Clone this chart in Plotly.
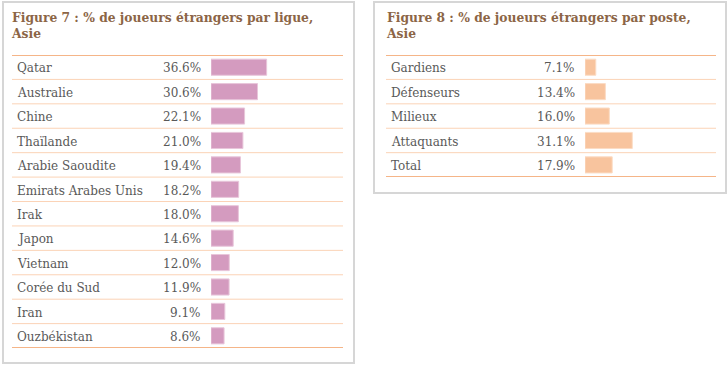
import plotly.graph_objects as go

# ---- data ----
ligues = ["Qatar", "Australie", "Chine", "Thaïlande", "Arabie Saoudite", "Emirats Arabes Unis",
          "Irak", "Japon", "Vietnam", "Corée du Sud", "Iran", "Ouzbékistan"]
ligue_pct = [36.6, 30.6, 22.1, 21.0, 19.4, 18.2, 18.0, 14.6, 12.0, 11.9, 9.1, 8.6]

postes = ["Gardiens", "Défenseurs", "Milieux", "Attaquants", "Total"]
poste_pct = [7.1, 13.4, 16.0, 31.1, 17.9]

title7 = "Figure 7 : % de joueurs étrangers par ligue,<br>Asie"
title8 = "Figure 8 : % de joueurs étrangers par poste,<br>Asie"

W, H = 728, 366
def px(x): return x / W
def py(y): return 1 - y / H

PINK = "#D49BBF"
PEACH = "#F8C49E"
SEP = "#FBD3B6"
RULE = "#F5B588"
BOX = "#D6D6D6"
TXT = "#595959"
TITLE = "#8C6546"
FONT = "DejaVu Serif"
SCALE = 1.52  # px per percent

fig = go.Figure()

fig.add_trace(go.Bar(x=ligue_pct, y=list(range(len(ligues))), orientation="h",
                     marker=dict(color=PINK, line=dict(color="#E8C6DA", width=1)),
                     width=0.66, xaxis="x", yaxis="y", hoverinfo="skip", showlegend=False))
fig.add_trace(go.Bar(x=poste_pct, y=list(range(len(postes))), orientation="h",
                     marker=dict(color=PEACH, line=dict(color="#FBDCC5", width=1)),
                     width=0.66, xaxis="x2", yaxis="y2", hoverinfo="skip", showlegend=False))

top, row = 55, 24.42
l_bot = top + row * len(ligues)
r_bot = top + row * len(postes)

ax_common = dict(showgrid=False, zeroline=False, showticklabels=False, showline=False, ticks="", fixedrange=True)
fig.update_layout(
    width=W, height=H, margin=dict(l=0, r=0, t=0, b=0),
    paper_bgcolor="white", plot_bgcolor="rgba(0,0,0,0)",
    bargap=0,
    xaxis=dict(domain=[px(211), px(211 + SCALE * 40)], range=[0, 40], anchor="y", **ax_common),
    yaxis=dict(domain=[py(l_bot), py(top)], range=[len(ligues) - 0.5, -0.5], anchor="x", **ax_common),
    xaxis2=dict(domain=[px(585), px(585 + SCALE * 40)], range=[0, 40], anchor="y2", **ax_common),
    yaxis2=dict(domain=[py(r_bot), py(top)], range=[len(postes) - 0.5, -0.5], anchor="x2", **ax_common),
)

shapes = []
# boxes
shapes.append(dict(type="rect", xref="paper", yref="paper", x0=px(3), x1=px(354), y0=py(363), y1=py(2),
                   line=dict(color=BOX, width=2), layer="below"))
shapes.append(dict(type="rect", xref="paper", yref="paper", x0=px(374), x1=px(726), y0=py(193), y1=py(2),
                   line=dict(color=BOX, width=2), layer="below"))

def add_rules(n, yref, x0, x1):
    for k in range(n + 1):
        edge = k in (0, n)
        shapes.append(dict(type="line", xref="paper", yref=yref, x0=px(x0), x1=px(x1),
                           y0=k - 0.5, y1=k - 0.5,
                           line=dict(color=RULE if edge else SEP, width=2 if edge else 1)))

add_rules(len(ligues), "y", 12, 343)
add_rules(len(postes), "y2", 386, 716)

ann = []
for t, x0 in ((title7, 9), (title8, 384)):
    ann.append(dict(text="<b>" + t.replace("<br>", "</b><br><b>") + "</b>", xref="paper", yref="paper",
                    x=px(x0), y=py(8), xanchor="left", yanchor="top", align="left", showarrow=False,
                    font=dict(family=FONT, size=12.3, color=TITLE)))

for i, (name, v) in enumerate(zip(ligues, ligue_pct)):
    ann.append(dict(text=name, xref="paper", yref="y", x=px(15), y=i + 0.05, xanchor="left", yanchor="middle",
                    showarrow=False, font=dict(family=FONT, size=12, color=TXT)))
    ann.append(dict(text=f"{v:.1f}%", xref="paper", yref="y", x=px(203), y=i + 0.05, xanchor="right", yanchor="middle",
                    showarrow=False, font=dict(family=FONT, size=12, color=TXT)))
for i, (name, v) in enumerate(zip(postes, poste_pct)):
    ann.append(dict(text=name, xref="paper", yref="y2", x=px(389), y=i + 0.05, xanchor="left", yanchor="middle",
                    showarrow=False, font=dict(family=FONT, size=12, color=TXT)))
    ann.append(dict(text=f"{v:.1f}%", xref="paper", yref="y2", x=px(577), y=i + 0.05, xanchor="right", yanchor="middle",
                    showarrow=False, font=dict(family=FONT, size=12, color=TXT)))

fig.update_layout(shapes=shapes, annotations=ann)
fig.write_html("out.html", config=dict(displayModeBar=False, staticPlot=True),
               post_script="document.body.style.margin='0';document.body.style.overflow='hidden';")
